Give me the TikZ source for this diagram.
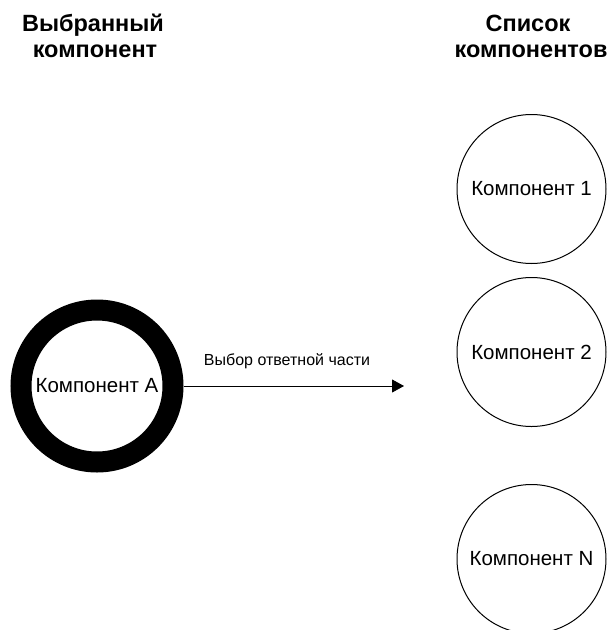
\documentclass[tikz,border=0pt]{standalone}
\usepackage{fontspec}
\setmainfont{Liberation Sans}
\usetikzlibrary{arrows.meta}
\begin{document}
\begin{tikzpicture}[x=1pt,y=-1pt,
  heading/.style={font=\fontsize{23.5}{27}\selectfont\bfseries, anchor=base, inner sep=0pt},
  comp/.style={circle, draw=black, line width=1pt, minimum size=149pt, inner sep=0pt,
    font=\fontsize{20.5}{24}\selectfont},
  selected/.style={circle, draw=black, line width=21pt, minimum size=152pt, inner sep=0pt,
    font=\fontsize{20.5}{24}\selectfont},
  link/.style={-{Triangle[length=12pt,width=13pt]}, line width=0.8pt},
  linklabel/.style={font=\fontsize{16}{18}\selectfont, anchor=base, inner sep=0pt}]
  \useasboundingbox (0,0) rectangle (609,630);
  % column headings
  \node[heading] (hsel1) at (93,31) {Выбранный};
  \node[heading] (hsel2) at (95,57) {компонент};
  \node[heading] (hlist1) at (528,31) {Список};
  \node[heading] (hlist2) at (531,57) {компонентов};
  % selected component
  \node[selected] (a) at (97,386) {Компонент A};
  % list of components
  \node[comp] (c1) at (531.5,189) {Компонент 1};
  \node[comp] (c2) at (531.5,352) {Компонент 2};
  \node[comp] (cn) at (531.5,559) {Компонент N};
  % choosing the mating part
  \coordinate (tip) at (404,386);
  \draw[link] (a.east) -- (tip);
  \node[linklabel] (lbl) at (287,365) {Выбор ответной части};
\end{tikzpicture}
\end{document}
